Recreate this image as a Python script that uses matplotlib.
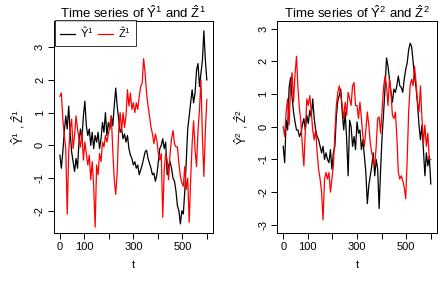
import matplotlib
matplotlib.use("Agg")
import matplotlib.pyplot as plt
import numpy as np

plt.rcParams['font.family'] = ['Liberation Sans', 'DejaVu Sans']
plt.rcParams['mathtext.fontset'] = 'custom'
plt.rcParams['mathtext.rm'] = 'Liberation Sans'
plt.rcParams['mathtext.it'] = 'Liberation Sans'

# time index (every 6th step of the series)
t = np.arange(0, 601, 6)

# series 1 (left panel)
y1_hat = [-0.3, -0.7, -0.2, 0.4, 0.9, 0.5, 1.2, 0.4, -0.2, -0.5,
          -0.8, -0.4, -0.7, 0.1, 0.5, 0.2, 0.9, 1.35, 0.6, 0.3,
          0.5, 0.0, 0.4, -0.1, 0.3, 0.1, 0.4, -0.1, 0.2, 0.7,
          0.4, 1.0, 0.3, 0.7, 0.5, 0.9, 0.6, 1.2, 1.75, 1.2,
          0.8, 0.4, 0.5, 0.2, 0.35, 0.1, 0.3, -0.1, -0.3, -0.4,
          -0.6, -0.5, -0.7, -0.6, -0.9, -0.75, -0.6, -0.4, -0.2, -0.15,
          -0.4, -0.55, -0.7, -0.9, -0.85, -1.1, -0.9, -0.5, -0.1, 0.0,
          0.2, -0.1, 0.1, -0.9, -0.6, -0.5, -0.7, -1.0, -1.1, -1.4,
          -1.85, -2.0, -2.4, -2.0, -2.1, -1.4, -0.5, 0.5, 0.9, 1.3,
          1.7, 1.3, 1.6, 2.3, 2.5, 1.8, 2.2, 2.6, 3.5, 2.6,
          2.0]
z1_hat = [1.5, 1.6, 0.8, 0.3, -0.1, -2.1, -0.2, 0.5, 0.8, -0.1,
          0.3, 0.9, 0.5, 0.2, -0.05, 0.4, -0.45, 0.1, -0.25, -0.6,
          -0.3, -1.05, -0.5, -1.25, -2.5, -0.6, -0.9, -0.25, -0.5, 0.1,
          -0.05, 0.3, 0.1, 0.35, 0.6, 0.9, -0.15, -1.05, -1.5, -0.85,
          0.45, 1.0, 0.45, 1.0, 0.55, 0.9, 1.7, 1.2, 1.6, 1.1,
          1.3, 1.0, 1.3, 1.1, 1.5, 1.8, 1.9, 2.65, 2.2, 1.6,
          1.2, 0.9, 0.55, 0.35, 0.05, 0.35, 0.15, -0.25, -0.45, -0.25,
          -2.2, -0.75, -0.25, -0.45, -1.05, -0.25, 0.2, 0.45, 0.05, -0.05,
          -0.05, -0.55, -0.95, -1.15, -1.25, -0.65, -1.35, -1.0, -2.35, -1.05,
          0.05, 0.75, -0.15, -0.65, 0.45, 1.1, 2.0, 0.25, -0.95, 0.45,
          1.4]

# series 2 (right panel)
y2_hat = [-0.6, -1.1, 0.2, -0.1, 1.2, 1.5, 0.9, 0.45, 0.15, -0.1,
          -0.1, -0.3, -0.2, 0.05, 0.25, -0.1, 0.35, 0.1, 0.5, 0.3,
          0.85, 0.25, -0.1, -0.3, -0.4, -0.6, -0.8, -0.6, -1.0, -0.8,
          -1.0, -1.1, -0.7, -1.3, -0.8, -0.6, 0.3, 0.8, 0.95, 1.15,
          0.45, -0.1, 0.45, -0.4, -1.5, 0.2, 0.0, -0.6, -0.3, -0.7,
          0.15, -0.2, -0.1, -0.7, -0.4, -0.9, -1.4, -2.35, -1.8, -1.5,
          -1.2, -0.8, -1.5, -1.0, -1.3, -2.5, -1.3, -0.3, 0.4, 1.2,
          2.1, 1.85, 1.45, 1.05, 0.75, 1.15, 1.05, 1.25, 1.55, 1.25,
          1.2, 1.05, 1.45, 1.75, 1.95, 2.35, 2.55, 2.45, 2.0, 1.5,
          1.2, 0.7, 0.05, -0.4, 0.05, -0.7, -1.5, -0.8, -1.2, -0.9,
          -1.75]
z2_hat = [0.0, -0.3, 0.45, 0.85, 0.05, 1.25, 1.65, 0.75, 1.6, 2.15,
          1.2, 0.55, 0.15, -0.6, -1.2, -0.1, 0.85, 0.65, 0.95, 0.45,
          -0.1, -0.4, -0.1, -0.8, -1.3, -1.6, -2.0, -2.85, -1.6, -1.4,
          -1.6, -1.4, -2.0, -1.6, -1.2, -0.2, 0.65, 1.05, 1.25, 0.95,
          0.65, 0.25, 0.75, 0.35, 1.05, 0.85, 0.65, 1.25, 1.35, 0.65,
          0.65, 0.25, 0.75, 0.25, -0.3, -0.6, -0.1, 0.45, 0.05, -0.5,
          -0.8, -1.0, -1.2, -0.6, 0.25, 0.3, -0.2, 0.5, 1.2, 1.55,
          1.25, 0.65, 1.45, 1.05, 0.35, 0.25, 0.45, -0.3, -1.4, -1.6,
          -1.5, -1.65, -1.85, -2.2, -1.0, 0.45, 1.25, 1.45, 1.25, 1.85,
          1.35, 0.75, 0.45, 1.25, 0.25, -0.5, 0.05, -0.6, -0.2, -1.0,
          -1.0]

x_ticks = [0, 100, 200, 300, 400, 500, 600]
x_labels = ['0', '100', '', '300', '', '500', '']

fig = plt.figure(figsize=(4.47, 2.84), dpi=100)
ax1 = fig.add_axes([54 / 447, 51.3 / 284, 158.7 / 447, 212 / 284])
ax2 = fig.add_axes([277.3 / 447, 51.3 / 284, 159.4 / 447, 212 / 284])

panels = [(ax1, y1_hat, z1_hat, '1', (-2.67, 3.81), [-2, -1, 0, 1, 2, 3]),
          (ax2, y2_hat, z2_hat, '2', (-3.24, 3.24), [-3, -2, -1, 0, 1, 2, 3])]

for ax, yv, zv, k, ylim, yticks in panels:
    ax.plot(t, yv, color='black', lw=0.9, label=r'$\hat{Y}^%s$' % k)
    ax.plot(t, zv, color='red', lw=0.9, label=r'$\hat{Z}^%s$' % k)
    ax.set_xlim(-24, 624)
    ax.set_ylim(*ylim)
    ax.set_xticks(x_ticks)
    ax.set_xticklabels(x_labels)
    ax.set_yticks(yticks)
    ax.set_yticklabels([str(v) for v in yticks], rotation=90, va='center')
    ax.tick_params(direction='out', length=4.5, width=0.7, labelsize=8, pad=2)
    for s in ax.spines.values():
        s.set_linewidth(0.7)
    ax.set_title(r'Time series of $\hat{Y}^%s$ and $\hat{Z}^%s$' % (k, k),
                 fontsize=9.5, pad=0)
    ax.set_xlabel('t', fontsize=8, labelpad=6)
    ax.set_ylabel(r'$\hat{Y}^%s$ , $\hat{Z}^%s$' % (k, k), fontsize=8.5, labelpad=6)

leg = ax1.legend(loc='upper left', bbox_to_anchor=(0.005, 1.005), ncol=2, fontsize=8,
                 frameon=True, fancybox=False, edgecolor='black',
                 borderaxespad=0, handlelength=1.3, columnspacing=0.45,
                 handletextpad=0.45, borderpad=0.5)
leg.get_frame().set_linewidth(0.7)

fig.savefig('out.png', dpi=100)
